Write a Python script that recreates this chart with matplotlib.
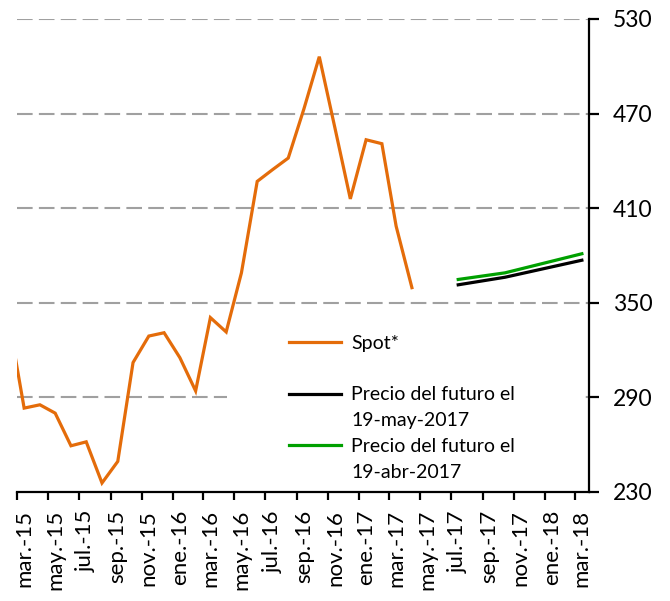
import matplotlib
matplotlib.use("Agg")
import matplotlib.pyplot as plt
from matplotlib.lines import Line2D
from matplotlib.patches import Rectangle
import pandas as pd

ORANGE = "#E46C0A"
GREEN = "#00A000"
GRID = "#A0A0A0"

plt.rcParams["font.family"] = ["Lato", "DejaVu Sans"]

# monthly spot (plotted mid-month), feb-15 .. apr-17
spot_months = pd.date_range("2015-02-01", "2017-04-01", freq="MS")
spot_values = [335.0, 283.2, 285.3, 280.0, 259.3, 261.8, 235.7, 249.4, 312.1,
               328.9, 331.0, 315.2, 294.1, 340.6, 331.5, 369.0, 427.0, 434.4,
               441.8, 473.2, 506.1, 460.5, 415.9, 453.4, 450.9, 398.6, 359.6]

fut_months = pd.to_datetime(["2017-07-01", "2017-10-01", "2018-03-01"])
fut_may = [361.4, 366.2, 377.0]   # futuro 19-may-2017
fut_abr = [364.8, 369.0, 381.1]   # futuro 19-abr-2017

tick_months = pd.date_range("2015-03-01", "2018-03-01", freq="2MS")
tick_labels = ["mar.-15", "may.-15", "jul.-15", "sep.-15", "nov.-15", "ene.-16",
               "mar.-16", "may.-16", "jul.-16", "sep.-16", "nov.-16", "ene.-17",
               "mar.-17", "may.-17", "jul.-17", "sep.-17", "nov.-17", "ene.-18",
               "mar.-18"]
y_ticks = [230, 290, 350, 410, 470, 530]

mid = pd.Timedelta(days=14)

fig = plt.figure(figsize=(6.70, 6.01), dpi=100)
ax = fig.add_axes([0.0254, 0.1814, 0.8537, 0.7870])

ax.plot(spot_months + mid, spot_values, color=ORANGE, lw=2.3, zorder=3,
        solid_joinstyle="miter")
ax.plot(fut_months + mid, fut_may, color="black", lw=2.3, zorder=3)
ax.plot(fut_months + mid, fut_abr, color=GREEN, lw=2.3, zorder=3)

ax.set_xlim(pd.Timestamp("2015-03-01"), pd.Timestamp("2018-03-29"))
ax.set_ylim(230, 530)

ax.yaxis.tick_right()
ax.set_yticks(y_ticks)
ax.set_yticklabels([str(v) for v in y_ticks])
# ticks at month start, labels centred on the month
ax.set_xticks(tick_months)
ax.set_xticklabels([])
ax.set_xticks(tick_months + mid, minor=True)
ax.set_xticklabels(tick_labels, minor=True, rotation=90)

for v in y_ticks[1:]:
    ax.axhline(v, color=GRID, lw=1.5, dashes=(7.5, 3.0), zorder=1)

for s in ["left", "top"]:
    ax.spines[s].set_visible(False)
for s in ["right", "bottom"]:
    ax.spines[s].set_linewidth(1.6)
    ax.spines[s].set_color("black")

ax.tick_params(axis="y", direction="out", length=7, width=1.6, pad=10,
               labelsize=16.5, right=True, left=False)
ax.tick_params(axis="x", which="major", direction="out", length=6, width=1.6)
ax.tick_params(axis="x", which="minor", length=0, pad=13, labelsize=16)

# white legend background that hides the 290 gridline
ax.add_patch(Rectangle((0.367, 0.03), 0.620, 0.34, transform=ax.transAxes,
                       facecolor="white", edgecolor="none", zorder=2))

blank = Line2D([], [], color="none")
handles = [Line2D([], [], color=ORANGE, lw=2.3), blank,
           Line2D([], [], color="black", lw=2.3), blank,
           Line2D([], [], color=GREEN, lw=2.3), blank]
labels = ["Spot*", " ", "Precio del futuro el", "19-may-2017",
          "Precio del futuro el", "19-abr-2017"]
leg = ax.legend(handles, labels, loc="upper left", bbox_to_anchor=(0.4755, 0.332),
                frameon=False, fontsize=14, handlelength=2.7, handletextpad=0.5,
                labelspacing=0.45, borderpad=0, borderaxespad=0)
leg.set_zorder(4)

fig.savefig("out.png", dpi=100)
